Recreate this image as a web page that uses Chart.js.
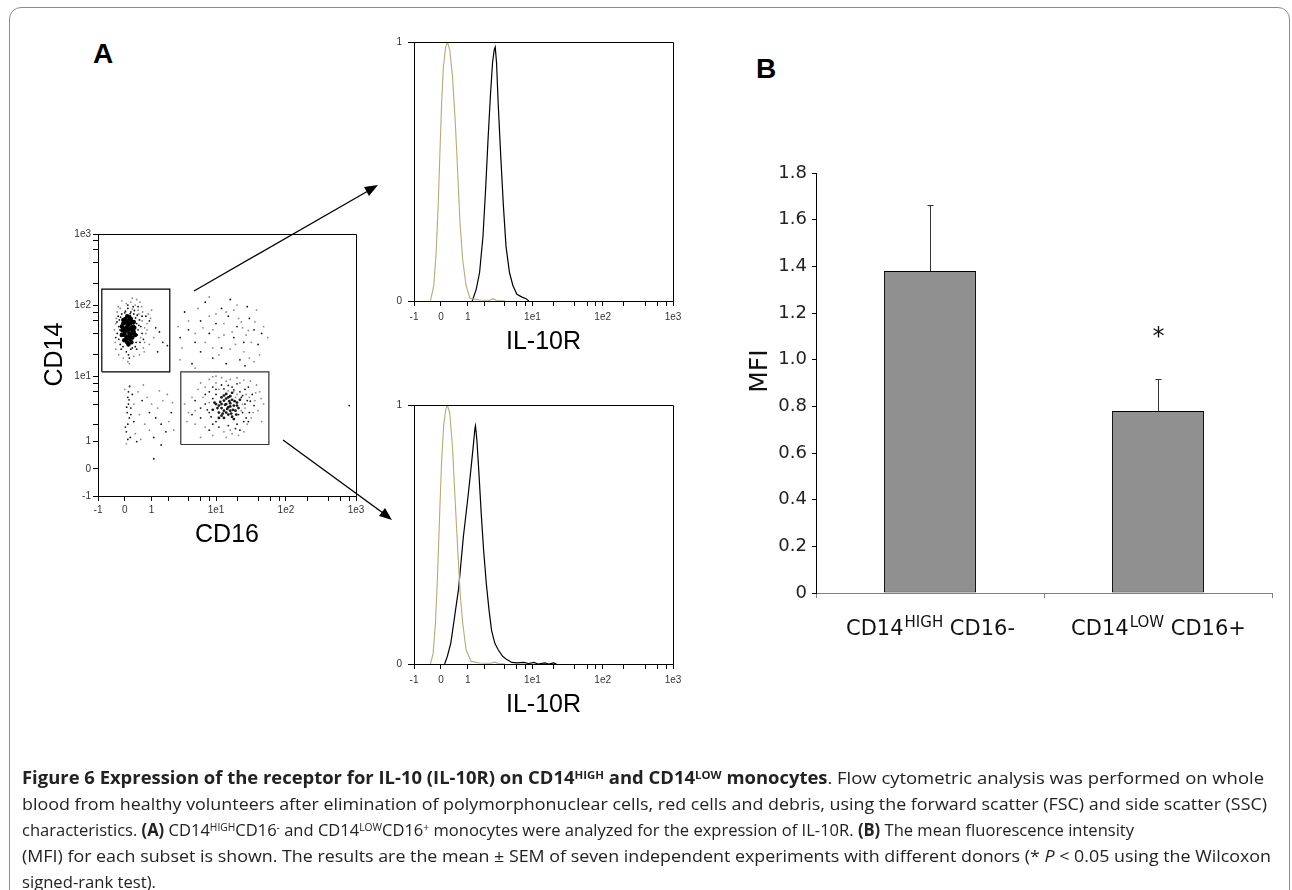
<!DOCTYPE html>
<html>
<head>
<meta charset="utf-8">
<script src="https://cdn.jsdelivr.net/npm/chart.js@4.4.1/dist/chart.umd.min.js"></script>
<style>
  html, body { margin: 0; padding: 0; background: #fff; }
  body { width: 1292px; height: 890px; position: relative; overflow: hidden; font-family: 'Liberation Sans', Arial, sans-serif; }
  .frame { position: absolute; left: 9px; top: 7px; width: 1281px; height: 930px; border: 1px solid #8c8c8c; border-radius: 12px; box-sizing: border-box; }
  .panel { position: absolute; font: bold 28px/28px 'Liberation Sans', Arial, sans-serif; color: #000; }
  canvas { position: absolute; }
  svg { position: absolute; left: 0; top: 0; }
  .cap { position: absolute; left: 22px; top: 765px; font-family: 'Open Sans', 'Noto Sans', sans-serif; font-size: 17px; color: #222; }
  .ln { position: absolute; left: 0; white-space: nowrap; line-height: 26px; transform-origin: 0 0; }
  .ln sup { font-size: 0.62em; vertical-align: baseline; position: relative; top: -0.5em; }
</style>
</head>
<body>
<div class="frame"></div>
<div class="panel" style="left:93px; top:40px;">A</div>
<div class="panel" style="left:756px; top:55px;">B</div>

<canvas id="dotplot" width="350" height="345" style="left:20px; top:214px;"></canvas>
<canvas id="histTop" width="320" height="340" style="left:370px; top:25px;"></canvas>
<canvas id="histBottom" width="320" height="340" style="left:370px; top:388px;"></canvas>
<canvas id="mfiChart" width="555" height="500" style="left:730px; top:150px;"></canvas>

<svg width="1292" height="890">
  <line x1="194" y1="291" x2="368" y2="191" stroke="#000" stroke-width="1.3"/>
  <polygon points="378,185 364,187 369,196" fill="#000"/>
  <line x1="283" y1="440" x2="383" y2="513" stroke="#000" stroke-width="1.3"/>
  <polygon points="392,520 379,516 385,508" fill="#000"/>
</svg>

<div class="cap">
  <div class="ln" data-w="1242" style="top:0px"><b>Figure 6 Expression of the receptor for IL-10 (IL-10R) on CD14<sup>HIGH</sup> and CD14<sup>LOW</sup> monocytes</b>. Flow cytometric analysis was performed on whole</div>
  <div class="ln" data-w="1245" style="top:26px">blood from healthy volunteers after elimination of polymorphonuclear cells, red cells and debris, using the forward scatter (FSC) and side scatter (SSC)</div>
  <div class="ln" data-w="1112" style="top:52px">characteristics. <b>(A)</b> CD14<sup>HIGH</sup>CD16<sup>-</sup> and CD14<sup>LOW</sup>CD16<sup>+</sup> monocytes were analyzed for the expression of IL-10R. <b>(B)</b> The mean fluorescence intensity</div>
  <div class="ln" data-w="1249" style="top:78px">(MFI) for each subset is shown. The results are the mean ± SEM of seven independent experiments with different donors (* <i>P</i> &lt; 0.05 using the Wilcoxon</div>
  <div class="ln" data-w="134" style="top:104px">signed-rank test).</div>
</div>

<script>
// ---- flow axis ticks (biexponential display) ----
const flowTicks = [-1, 0, 1, 2, 4, 6, 8, 10, 20, 40, 60, 80, 100, 200, 400, 600, 800, 1000];
const flowLabels = { '-1': '-1', '0': '0', '1': '1', '10': '1e1', '100': '1e2', '1000': '1e3' };

// ---- dot plot: CD16 (x) vs CD14 (y) ----
const hiCore = [[0.05,45],[0.15,40],[0.1,52],[0.2,48],[0.0,38],[0.25,35],[-0.05,55],[0.12,60],[0.18,33],[0.08,30],
  [0.3,42],[-0.08,44],[0.22,58],[0.02,64],[0.28,50],[0.1,36],[-0.02,32],[0.15,68],[0.35,38],[0.05,48],
  [-0.1,50],[-0.1,38],[0.0,58],[0.05,34],[0.1,44],[0.18,55],[0.25,44],[0.3,58],[0.22,30],[0.32,48],
  [0.12,28],[0.0,42],[-0.05,62],[0.08,70],[0.2,64],[0.15,46],[0.27,40],[0.07,56],[-0.03,47],[0.17,37]];
const hiDots = [[-0.25,40],[-0.2,50],[-0.15,28],[-0.18,62],[0.4,55],[0.45,45],[0.38,30],[0.5,62],[0.42,72],[-0.1,75],
  [0.0,78],[0.2,80],[0.3,75],[-0.12,24],[0.05,22],[0.25,25],[0.35,26],[0.12,20],[0.6,40],[0.55,50],[-0.3,35],
  [-0.22,70],[0.1,90],[0.28,95],[0.15,18],[0.65,33],[1.2,48],[1.4,42],[1.6,30],[1.9,27],[1.3,22],[0.9,60],[0.75,70],
  [-0.2,33],[-0.16,45],[0.42,38],[0.48,52],[0.36,66],[-0.14,68],[0.02,82],[0.18,76],[0.32,84],[-0.06,26],[0.2,24],
  [0.4,24],[0.52,30],[-0.26,58],[0.6,70],[0.1,100],[0.45,95]];
const hiHalo = [[-0.3,55],[-0.35,45],[0.55,35],[0.6,60],[0.7,48],[0.65,25],[0.45,85],[0.35,100],[0.2,110],[0.05,105],
  [-0.15,90],[-0.25,80],[0.8,55],[0.85,75],[0.5,20],[0.3,19],[-0.05,18],[0.75,40],[1.0,85],[0.4,120],[0.15,15],
  [-0.2,20],[1.1,35],[0.9,28],[0.58,95],[-0.32,30],[-0.28,65],[0.62,80],[0.7,30],[0.52,110],[0.25,125],[-0.1,115],
  [0.8,45],[0.95,65],[0.68,22],[0.1,16],[-0.22,95],[0.48,75],[0.25,88],[-0.3,24]];
const midDots = [[3,35],[4,45],[5,30],[6,60],[8,40],[10,55],[12,25],[15,70],[18,35],[20,50],[25,30],[30,65],[35,45],
  [40,28],[6,22],[9,18],[14,15],[22,17],[3.5,80],[7,110],[12,90],[28,95],[16,120],[45,40],[4.5,15],[26,14]];
const midHalo = [[2.8,50],[3.2,25],[4,60],[5,40],[5.5,90],[7,30],[8,70],[9,45],[11,35],[13,55],[14,80],[17,42],[19,28],
  [21,65],[24,48],[27,38],[32,30],[36,58],[38,85],[42,20],[48,50],[11,20],[16,24],[30,18],[8,130],[20,100],[3,17],
  [5,13],[35,16],[55,35],[6.5,48],[10,75],[13,38],[23,58],[29,44],[18,85],[9,25],[25,22]];
const lowLeftDots = [[0.1,5],[0.12,4],[0.08,3],[0.15,2.5],[0.1,2],[0.05,1.5],[0.18,1.2],[0.12,6],[0.2,3.5],[0.3,2.2],
  [0.6,4.5],[0.9,3],[1.2,2.5],[1.5,2],[1.8,1.5],[2.2,3],[1.1,1.2],[0.4,1],[0.02,1.8],[0.25,5.5],[1.1,0.33],[1.5,0.85],
  [0.14,4.6],[0.06,3.6],[0.2,2.8],[0.1,1.1],[0.16,7.2]];
const lowLeftHalo = [[0.0,6.5],[0.15,7],[0.3,4],[0.45,6],[0.5,2.8],[0.7,2],[0.8,5],[1.0,4],[1.3,3.5],[1.6,4.5],[2.0,2.2],
  [2.4,1.6],[1.9,5.5],[0.35,1.4],[0.55,1.1],[0.05,0.9],[0.9,1.6],[2.3,4.2],[1.4,6.2],[0.65,7.5]];
const loCore = [[12,3.5],[14,4],[16,3.2],[13,4.5],[15,2.8],[18,3.8],[11,3],[17,4.6],[14,3],[19,3.2],[12,5],[16,5.2],
  [10,4],[20,4.2],[13,2.5],[15,3.6],[17,2.6],[11,3.8],[14,5.6],[18,2.4],[9,3.3],[21,3.5],[16,4.1],[12.5,2.9],[13.5,3.9],
  [11.5,4.3],[13,3.2],[15.5,4.4],[16.5,2.9],[14.5,3.4],[12,2.7],[18.5,4.4],[10.5,3.5],[19.5,2.8],[14,4.8],[16,3.7],
  [13,5.3],[17.5,3.3],[11,2.5],[20,3.8],[15,5],[9.5,4.2],[22,4.6],[12,4],[17,5.8]];
const loDots = [[6,2.5],[7,4],[8,3],[8,6],[9,2],[10,5.5],[10,2.2],[22,6],[24,3],[25,2.2],[28,4.5],[30,3],[20,2],[23,5],
  [26,6.5],[7,5.5],[9,7],[12,7.5],[17,7],[20,7.8],[6,3.5],[5,4.5],[33,5.5],[27,2.5],[11,1.8],[15,1.9],[19,1.7],
  [22,1.6],[8,1.6],[35,3.8],[4.5,2.8],[29,7],[800,3.8],[7.5,3.3],[9,4.8],[10,6.5],[21,2.8],[24,5.3],[26,4],[18,6.4],
  [15,7.4],[13,6.6],[8.5,2.6],[29,2.2],[31,4.4]];
const loHalo = [[4,3],[4.5,5],[5,2],[5.5,6.5],[6,8],[7,1.8],[8,9],[10,10],[12,9.5],[14,8.5],[16,9],[18,6],[20,5.5],
  [22,8],[24,4],[26,3.5],[28,2],[30,5],[32,2.5],[36,4.5],[40,3.2],[42,6],[45,2.2],[38,7.5],[13,1.5],[17,1.4],
  [21,1.3],[25,1.5],[9,1.3],[6,1.2],[3.5,4],[3.8,2.2],[11,6.5],[15,6.2],[19,5],[23,3.2],[27,5.5],[31,8.5],[48,4],
  [7,7],[14,1.2],[10,8],[5,3.2],[6.5,5],[8,4.2],[34,3],[37,5.8],[44,4.8],[20,9.5],[25,8.8],[9,9.8],[16,1.6]];
// gates (CD16 range, CD14 range)
const gateHiX = [-0.83, 2.08], gateHiY = [11.5, 168];
const gateLoX = [3.07, 57], gateLoY = [0.87, 11.5];

// ---- IL-10R histograms: [IL-10R, normalised count] ----
const isoTop = [[-0.351,0],[-0.235,0.06],[-0.156,0.19],[-0.089,0.37],[-0.033,0.57],[0.022,0.76],[0.078,0.90],[0.156,0.98],
  [0.213,1.0],[0.293,0.97],[0.387,0.87],[0.484,0.70],[0.572,0.51],[0.663,0.31],[0.774,0.16],[0.919,0.06],[1.105,0.01],
  [1.6,0.004],[2.38,0.003],[2.67,0.009],[3.0,0.002],[4.03,0]];
const stainTop = [[1.215,0],[1.431,0.045],[1.633,0.11],[1.857,0.25],[2.055,0.44],[2.24,0.63],[2.44,0.80],[2.62,0.92],
  [2.78,0.97],[2.88,0.98],[3.01,0.92],[3.19,0.76],[3.46,0.57],[3.80,0.37],[4.16,0.21],[4.67,0.11],[5.23,0.06],
  [5.98,0.026],[7.09,0.015],[8.11,0.009],[8.86,0]];
const isoBottom = [[-0.351,0],[-0.259,0.04],[-0.179,0.16],[-0.111,0.34],[-0.044,0.57],[0.022,0.78],[0.089,0.92],[0.156,0.98],
  [0.213,1.0],[0.293,0.97],[0.387,0.84],[0.484,0.63],[0.585,0.43],[0.677,0.27],[0.774,0.16],[0.919,0.055],[1.16,0.01],
  [1.63,0.004],[2.4,0.003],[2.84,0.007],[3.2,0.002],[4.03,0]];
const stainBottom = [[0.123,0],[0.213,0.03],[0.328,0.08],[0.447,0.17],[0.534,0.235],[0.611,0.29],[0.704,0.39],[0.802,0.49],
  [0.919,0.58],[1.04,0.67],[1.16,0.76],[1.28,0.85],[1.36,0.91],[1.39,0.92],[1.47,0.865],[1.59,0.74],[1.75,0.57],
  [1.90,0.44],[2.10,0.31],[2.31,0.21],[2.53,0.13],[2.84,0.08],[3.19,0.055],[3.71,0.03],[4.27,0.017],[5.05,0.006],
  [5.98,0.004],[7.5,0.006],[8.86,0.002],[10.5,0.006],[12,0],[15,0.004],[17,0],[20,0.004],[22,0]];

// ---- panel B: MFI ----
const subsets = ['CD14HIGH CD16-', 'CD14LOW CD16+'];
const subsetParts = [['CD14', 'HIGH', ' CD16-'], ['CD14', 'LOW', ' CD16+']];
const mfi = [1.38, 0.78];
const sem = [0.283, 0.137];
const marks = ['', '*'];

const toXY = pts => pts.map(([x, y]) => ({ x, y }));
const gate = (xs, ys) => toXY([[xs[0], ys[0]], [xs[1], ys[0]], [xs[1], ys[1]], [xs[0], ys[1]], [xs[0], ys[0]]]);

// biexponential-like axis (arcsinh)
class AsinhScale extends Chart.LinearScale {
  static id = 'asinh';
  buildTicks() { return flowTicks.map(v => ({ value: v })); }
  configure() {
    super.configure();
    this._lo = Math.asinh(this.min);
    this._hi = Math.asinh(this.max);
  }
  getPixelForValue(v) {
    return this.getPixelForDecimal((Math.asinh(v) - this._lo) / (this._hi - this._lo));
  }
  getValueForPixel(p) {
    return Math.sinh(this._lo + this.getDecimalForPixel(p) * (this._hi - this._lo));
  }
}
Chart.register(AsinhScale);

const ARIAL = "'Liberation Sans', Arial, sans-serif";
const VERD = "'DejaVu Sans', Verdana, sans-serif";

// top + right edges of the cytometry plots
const boxFrame = {
  id: 'boxFrame',
  afterDatasetsDraw(chart) {
    const { ctx, chartArea: a } = chart;
    ctx.save();
    ctx.strokeStyle = '#000';
    ctx.lineWidth = 1;
    ctx.beginPath();
    ctx.moveTo(Math.round(a.left), Math.round(a.top) + 0.5);
    ctx.lineTo(Math.round(a.right) + 0.5, Math.round(a.top) + 0.5);
    ctx.lineTo(Math.round(a.right) + 0.5, Math.round(a.bottom));
    ctx.stroke();
    ctx.restore();
  }
};

function flowAxis(title, titlePad, size, tickPad) {
  return {
    type: 'asinh', min: -1, max: 1000,
    afterFit: s => { if (s.isHorizontal()) s.height = size; else s.width = size; },
    border: { color: '#000', width: 1 },
    grid: { drawOnChartArea: false, tickLength: 5, tickColor: '#000', tickWidth: 1 },
    ticks: {
      autoSkip: false, maxRotation: 0, minRotation: 0, padding: tickPad, color: '#333',
      font: { family: ARIAL, size: 10 },
      callback: v => flowLabels[v] ?? ''
    },
    title: { display: true, text: title, color: '#000', font: { family: ARIAL, size: 25 }, padding: titlePad }
  };
}

const dot = (pts, color, r) => ({
  data: toXY(pts), pointRadius: r, pointBackgroundColor: color, pointBorderWidth: 0, showLine: false
});
const gateSet = (xs, ys, color) => ({
  data: gate(xs, ys), showLine: true, borderColor: color, borderWidth: 1.2, pointRadius: 0, fill: false, tension: 0
});

new Chart(document.getElementById('dotplot'), {
  type: 'scatter',
  data: {
    datasets: [
      dot(hiHalo, '#8a8a8a', 0.9), dot(midHalo, '#8a8a8a', 0.9), dot(lowLeftHalo, '#8a8a8a', 0.9), dot(loHalo, '#8a8a8a', 0.9),
      dot(hiDots, '#111', 0.9), dot(midDots, '#111', 0.9), dot(lowLeftDots, '#111', 0.9), dot(loDots, '#111', 0.9),
      dot(loCore, '#1a1a1a', 1.4), dot(hiCore, '#000', 2.2),
      gateSet(gateHiX, gateHiY, '#000'), gateSet(gateLoX, gateLoY, '#333')
    ]
  },
  options: {
    responsive: false, animation: false, events: [],
    layout: { padding: { top: 20, right: 14, left: 0, bottom: 0 } },
    plugins: { legend: { display: false }, tooltip: { enabled: false } },
    scales: {
      x: flowAxis('CD16', { top: 0, bottom: 9 }, 63, 3),
      y: flowAxis('   CD14', { top: 20, bottom: 0 }, 78, 2)
    }
  },
  plugins: [boxFrame]
});

function histChart(id, iso, stain, titlePad) {
  return new Chart(document.getElementById(id), {
    type: 'scatter',
    data: {
      datasets: [
        { data: toXY(iso), showLine: true, borderColor: '#b2ac7c', borderWidth: 1.1, pointRadius: 0, tension: 0 },
        { data: toXY(stain), showLine: true, borderColor: '#000', borderWidth: 1.2, pointRadius: 0, tension: 0 }
      ]
    },
    options: {
      responsive: false, animation: false, events: [],
      layout: { padding: { top: 17, right: 17, left: 0, bottom: 0 } },
      plugins: { legend: { display: false }, tooltip: { enabled: false } },
      scales: {
        x: flowAxis('IL-10R', { top: 0, bottom: titlePad }, 64, 5),
        y: {
          type: 'linear', min: 0, max: 1,
          afterFit: s => { s.width = 44; },
          border: { color: '#000', width: 1 },
          grid: { drawOnChartArea: false, tickLength: 6, tickColor: '#000' },
          ticks: { stepSize: 1, padding: 6, color: '#333', font: { family: ARIAL, size: 10 } }
        }
      }
    },
    plugins: [boxFrame]
  });
}
histChart('histTop', isoTop, stainTop, 8);
histChart('histBottom', isoBottom, stainBottom, 8);

// error bars (upper half only) and significance mark
const errorBars = {
  id: 'errorBars',
  afterDatasetsDraw(chart) {
    const { ctx, scales: { y } } = chart;
    const bars = chart.getDatasetMeta(0).data;
    ctx.save();
    ctx.strokeStyle = '#333';
    ctx.lineWidth = 1;
    bars.forEach((bar, i) => {
      const x = Math.round(bar.x) + 0.5;
      const y0 = y.getPixelForValue(mfi[i]);
      const y1 = Math.round(y.getPixelForValue(mfi[i] + sem[i])) + 0.5;
      ctx.beginPath();
      ctx.moveTo(x, y0);
      ctx.lineTo(x, y1);
      ctx.moveTo(x - 3, y1);
      ctx.lineTo(x + 3, y1);
      ctx.stroke();
      if (marks[i]) {
        ctx.fillStyle = '#111';
        ctx.font = '24px ' + VERD;
        ctx.textAlign = 'center';
        ctx.textBaseline = 'alphabetic';
        ctx.fillText(marks[i], x, y1 - 36);
      }
    });
    ctx.restore();
  }
};

// category labels with superscripts
const subsetLabels = {
  id: 'subsetLabels',
  afterDraw(chart) {
    const { ctx, scales: { x } } = chart;
    const big = '21px ' + VERD, small = '15px ' + VERD;
    ctx.save();
    ctx.fillStyle = '#111';
    ctx.textAlign = 'left';
    ctx.textBaseline = 'alphabetic';
    subsetParts.forEach((parts, i) => {
      const cx = x.getPixelForValue(i);
      ctx.font = big;
      const w0 = ctx.measureText(parts[0]).width;
      const w2 = ctx.measureText(parts[2]).width;
      ctx.font = small;
      const w1 = ctx.measureText(parts[1]).width;
      const left = cx - (w0 + w1 + w2) / 2;
      const base = x.top + 42;
      ctx.font = big;
      ctx.fillText(parts[0], left, base);
      ctx.font = small;
      ctx.fillText(parts[1], left + w0 + 1, base - 8);
      ctx.font = big;
      ctx.fillText(parts[2], left + w0 + w1 + 1, base);
    });
    ctx.restore();
  }
};

new Chart(document.getElementById('mfiChart'), {
  type: 'bar',
  data: {
    labels: subsets,
    datasets: [{
      data: mfi,
      backgroundColor: '#909090',
      borderColor: '#000',
      borderWidth: 1,
      borderSkipped: false,
      barPercentage: 0.404,
      categoryPercentage: 1
    }]
  },
  options: {
    responsive: false, animation: false, events: [],
    layout: { padding: { top: 23, right: 13, left: 0, bottom: 0 } },
    plugins: { legend: { display: false }, tooltip: { enabled: false } },
    scales: {
      x: {
        afterFit: s => { s.height = 57; },
        border: { color: '#808080', width: 1 },
        grid: { offset: true, drawOnChartArea: false, tickLength: 5, tickColor: '#808080' },
        ticks: { display: false }
      },
      y: {
        min: 0, max: 1.8,
        afterFit: s => { s.width = 86; },
        border: { color: '#000', width: 1 },
        grid: { drawOnChartArea: false, tickLength: 4, tickColor: '#000' },
        ticks: {
          stepSize: 0.2, padding: 5, color: '#222',
          font: { family: VERD, size: 18 },
          callback: v => (v === 0 ? '0' : v.toFixed(1))
        },
        title: { display: true, text: '   MFI', color: '#111', font: { family: VERD, size: 25 }, padding: { top: 15, bottom: 0 } }
      }
    }
  },
  plugins: [errorBars, subsetLabels]
});

// squeeze each caption line to the width it has in the figure
function fitCaption() {
  document.querySelectorAll('.ln').forEach(el => {
    el.style.transform = 'none';
    const w = el.getBoundingClientRect().width;
    const target = +el.dataset.w;
    el.style.transform = 'scaleX(' + (target / w) + ')';
  });
}
fitCaption();
if (document.fonts) document.fonts.ready.then(fitCaption);
</script>
</body>
</html>
